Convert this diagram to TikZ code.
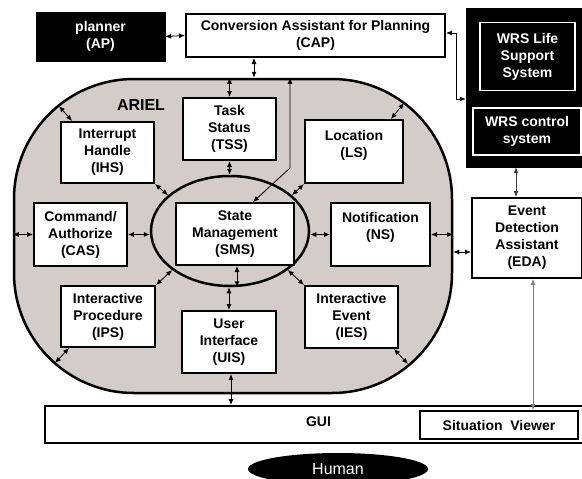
\documentclass[tikz,border=0pt]{standalone}
\usepackage{fontspec}
\setmainfont{Liberation Sans}
\usetikzlibrary{arrows.meta,shapes.geometric}
\definecolor{arielfill}{RGB}{211,204,201}
\begin{document}
\begin{tikzpicture}[x=1pt,y=-1pt,
  >={Latex[length=6pt,width=5pt]},
  txt/.style={font=\bfseries\fontsize{14}{17}\selectfont, align=center, inner sep=0pt},
  box/.style 2 args={draw, line width=2pt, fill=white, txt, minimum width=#1pt, minimum height=#2pt},
  blackbox/.style 2 args={draw=black, fill=black, text=white, txt, minimum width=#1pt, minimum height=#2pt},
  wbox/.style 2 args={draw=white, line width=1.5pt, fill=black, text=white, txt, minimum width=#1pt, minimum height=#2pt},
  arr/.style={<->, line width=0.8pt}
]
\useasboundingbox (0,0) rectangle (582,479);

% outer systems
\node[blackbox={129}{49}] (ap) at (100.5,36.5) {planner\\(AP)};
\node[box={259}{43}] (cap) at (315.5,35.5) {Conversion Assistant for Planning\\(CAP)};
\node[blackbox={116}{159}] (wrs) at (524,87.5) {};
\node[wbox={95}{68}] (wrslife) at (527.5,56.5) {WRS Life\\Support\\System};
\node[wbox={108}{47}] (wrsctrl) at (527,131.5) {WRS control\\system};

% ARIEL region
\node[draw, line width=2.5pt, fill=arielfill, rounded corners=120pt, minimum width=438pt, minimum height=314pt] (ariel) at (233,236) {};
\node[txt, font=\bfseries\fontsize{16}{19}\selectfont] (ariellbl) at (141,105) {ARIEL};

\node[ellipse, draw, line width=2.5pt, minimum width=158pt, minimum height=110pt, inner sep=0pt] (ell) at (230,231) {};

\node[box={93}{62}] (tss) at (229.5,129) {Task\\Status\\(TSS)};
\node[box={93}{61}] (ihs) at (107.5,152.5) {Interrupt\\Handle\\(IHS)};
\node[box={98}{63}] (ls) at (354,151.5) {};
\node[txt] (lstxt) at (354,145) {Location\\(LS)};
\node[box={93}{63}] (cas) at (80.5,234.5) {Command/\\Authorize\\(CAS)};
\node[box={118}{62}] (sms) at (235,234) {State\\Management\\(SMS)};
\node[box={99}{63}] (ns) at (380.5,234.5) {};
\node[txt] (nstxt) at (380.5,227) {Notification\\(NS)};
\node[box={94}{61}] (ips) at (108,316.5) {Interactive\\Procedure\\(IPS)};
\node[box={94}{62}] (uis) at (229,342) {User\\Interface\\(UIS)};
\node[box={93}{62}] (ies) at (351.5,317) {Interactive\\Event\\(IES)};
\node[box={110}{80}] (eda) at (527,238) {Event\\Detection\\Assistant\\(EDA)};

% GUI
\node[box={540}{37}] (gui) at (315,424.5) {};
\node[txt] (guitxt) at (318.5,422) {GUI};
\node[box={158}{28}] (sv) at (499,425) {Situation\ \ Viewer};

\node[ellipse, fill=black, text=white, minimum width=180pt, minimum height=32pt, inner sep=0pt, font=\fontsize{16}{19}\selectfont] (human) at (338,469) {Human};

% connectors
\draw[arr] (ap.east) -- (cap.west);
\draw[arr] ([yshift=2.5pt]cap.east) -- ++(10,0) |- ([yshift=-11.5pt]wrs.west);
\draw[arr] ([xshift=-61.5pt]cap.south) coordinate (capa) -- (capa |- ariel.north);
\draw[arr] (tss.north) -- (tss.north |- ariel.north);
\draw[arr] (tss.south) -- (tss.south |- ell.north);
\coordinate (bend) at (290,168);
\draw[arr] ([xshift=18pt]sms.north) -- (bend) -- (bend |- ariel.north);

\coordinate (arcIHS) at (59,106);
\draw[arr] ([xshift=12pt]ihs.north west) -- (arcIHS);
\draw[arr] (ihs.south east) -- (ell.150);
\coordinate (arcLS) at (404,103);
\draw[arr] ([xshift=-13pt]ls.north east) -- (arcLS);
\draw[arr] (ls.south west) -- (ell.30);

\draw[arr] (cas.west) -- (cas.west -| ariel.west);
\draw[arr] (cas.east) -- (cas.east -| ell.west);
\draw[arr] (ns.west) -- (ns.west -| ell.east);
\draw[arr] (ns.east) -- (ns.east -| ariel.east);
\draw[arr] ([yshift=-14pt]eda.west) coordinate (edaw) -- (edaw -| ariel.east);

\draw[arr] (ips.north east) -- (ell.-146);
\coordinate (arcIPS) at (55,363);
\draw[arr] ([xshift=9pt]ips.south west) -- (arcIPS);
\draw[arr] ([xshift=2pt]sms.south) coordinate (smss) -- (smss |- ell.south);
\draw[arr] (uis.north) -- (uis.north |- ell.south);
\draw[arr] (ies.north west) -- (ell.-34);
\coordinate (arcIES) at (408,364);
\draw[arr] ([xshift=-5pt]ies.south east) -- (arcIES);

\draw[arr] ([xshift=2pt]uis.south) coordinate (uiss) -- (uiss |- gui.north);
\draw[arr, draw=black!75] ([xshift=-11pt]eda.north) coordinate (edan) -- (edan |- wrs.south);
\draw[arr, draw=gray] ([xshift=34pt]sv.north) coordinate (svn) -- (svn |- eda.south);
\end{tikzpicture}
\end{document}
